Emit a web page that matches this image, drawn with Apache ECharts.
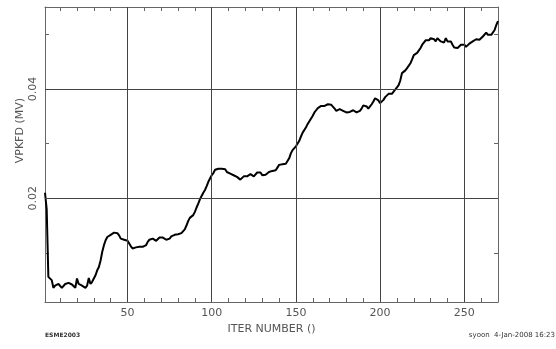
<!DOCTYPE html>
<html>
<head>
<meta charset="utf-8">
<script src="https://cdn.jsdelivr.net/npm/echarts@6/dist/echarts.min.js"></script>
<style>html,body{margin:0;padding:0;background:#fff}#c{width:556px;height:349px}</style>
</head>
<body>
<div id="c"></div>
<script>
// VPKFD (MV) per iteration, iterations 1..270
var vpkfd = [
0.0210,0.0180,0.0056,0.0059,0.0050,0.0036,0.0040,0.0037,0.0043,0.0040,
0.0036,0.0034,0.0043,0.0042,0.0045,0.0043,0.0042,0.0039,0.0036,0.0053,
0.0043,0.0042,0.0040,0.0039,0.0036,0.0040,0.0054,0.0043,0.0047,0.0050,
0.0059,0.0068,0.0074,0.0086,0.0102,0.0114,0.0123,0.0129,0.0132,0.0133,
0.0135,0.0137,0.0139,0.0136,0.0132,0.0126,0.0123,0.0124,0.0123,0.0122,
0.0117,0.0112,0.0108,0.0110,0.0110,0.0111,0.0111,0.0111,0.0111,0.0111,
0.0114,0.0120,0.0124,0.0126,0.0126,0.0124,0.0122,0.0124,0.0128,0.0128,
0.0128,0.0126,0.0124,0.0122,0.0126,0.0130,0.0132,0.0133,0.0134,0.0134,
0.0135,0.0136,0.0138,0.0143,0.0150,0.0158,0.0164,0.0166,0.0169,0.0175,
0.0183,0.0190,0.0198,0.0204,0.0210,0.0215,0.0222,0.0230,0.0236,0.0242,
0.0246,0.0252,0.0253,0.0254,0.0256,0.0254,0.0256,0.0253,0.0248,0.0250,
0.0245,0.0247,0.0242,0.0243,0.0239,0.0236,0.0234,0.0236,0.0240,0.0242,
0.0240,0.0242,0.0244,0.0242,0.0240,0.0242,0.0247,0.0250,0.0247,0.0242,
0.0239,0.0243,0.0245,0.0248,0.0251,0.0250,0.0253,0.0251,0.0256,0.0261,
0.0261,0.0262,0.0262,0.0263,0.0263,0.0273,0.0282,0.0288,0.0291,0.0295,
0.0300,0.0305,0.0313,0.0320,0.0325,0.0330,0.0336,0.0341,0.0346,0.0351,
0.0357,0.0361,0.0365,0.0367,0.0369,0.0368,0.0369,0.0369,0.0372,0.0372,
0.0371,0.0368,0.0364,0.0360,0.0361,0.0363,0.0363,0.0360,0.0358,0.0357,
0.0355,0.0358,0.0361,0.0361,0.0358,0.0357,0.0358,0.0360,0.0364,0.0370,
0.0371,0.0368,0.0364,0.0368,0.0372,0.0377,0.0383,0.0381,0.0379,0.0374,
0.0376,0.0380,0.0385,0.0387,0.0391,0.0392,0.0391,0.0395,0.0398,0.0403,
0.0407,0.0416,0.0429,0.0432,0.0434,0.0438,0.0441,0.0447,0.0454,0.0462,
0.0464,0.0466,0.0468,0.0475,0.0481,0.0484,0.0489,0.0491,0.0489,0.0493,
0.0496,0.0491,0.0487,0.0493,0.0490,0.0487,0.0484,0.0485,0.0493,0.0487,
0.0485,0.0487,0.0481,0.0476,0.0473,0.0475,0.0478,0.0481,0.0484,0.0481,
0.0477,0.0479,0.0483,0.0485,0.0487,0.0490,0.0491,0.0490,0.0490,0.0493,
0.0496,0.0499,0.0503,0.0499,0.0497,0.0499,0.0502,0.0508,0.0517,0.0524
];
var xLabelTicks = [50, 100, 150, 200, 250];
var xMinorTicks = [10,20,30,40,50,60,70,80,90,100,110,120,130,140,150,160,170,180,190,200,210,220,230,240,250,260];
var yLabelTicks = [0.02, 0.04];
var yMinorTicks = [0.01, 0.02, 0.03, 0.04, 0.05];
var xName = 'ITER NUMBER ()';
var yName = 'VPKFD (MV)';
var footLeft = 'ESME2003';
var footRight = 'syoon  4-Jan-2008 16:23';

var points = vpkfd.map(function (v, i) { return [i + 1, v]; });

var FONT = 'DejaVu Sans';
var AX = '#666';
var GRID = '#444';

var chart = echarts.init(document.getElementById('c'), null, {renderer: 'canvas'});
var gridLines = [];
xLabelTicks.forEach(function (x) { gridLines.push({xAxis: x}); });
yLabelTicks.forEach(function (y) { gridLines.push({yAxis: y}); });

chart.setOption({
  animation: false,
  backgroundColor: '#fff',
  grid: {left: 45, right: 58, top: 7, bottom: 47, containLabel: false},
  xAxis: [{
    type: 'value', min: 1, max: 270, position: 'bottom',
    name: xName, nameLocation: 'middle', nameGap: 20,
    nameTextStyle: {fontFamily: FONT, fontSize: 11, color: '#555'},
    axisLine: {show: true, lineStyle: {color: AX, width: 1}},
    axisTick: {show: true, inside: true, length: 4, customValues: xMinorTicks, lineStyle: {color: AX}},
    axisLabel: {show: true, customValues: xLabelTicks, margin: 6, fontFamily: FONT, fontSize: 11, color: '#555'},
    splitLine: {show: false}
  }, {
    type: 'value', min: 1, max: 270, position: 'top',
    axisLine: {show: true, lineStyle: {color: AX, width: 1}},
    axisTick: {show: true, inside: true, length: 4, customValues: xMinorTicks, lineStyle: {color: AX}},
    axisLabel: {show: false},
    splitLine: {show: false}
  }],
  yAxis: [{
    type: 'value', min: 0.001, max: 0.055, position: 'left',
    axisLine: {show: true, lineStyle: {color: AX, width: 1}},
    axisTick: {show: true, inside: true, length: 4, customValues: yMinorTicks, lineStyle: {color: AX}},
    axisLabel: {show: true, customValues: yLabelTicks, rotate: 90, margin: 6, fontFamily: FONT, fontSize: 11, color: '#555',
      formatter: function (v) { return v.toFixed(2); }},
    splitLine: {show: false}
  }, {
    type: 'value', min: 0.001, max: 0.055, position: 'right',
    axisLine: {show: true, lineStyle: {color: AX, width: 1}},
    axisTick: {show: true, inside: true, length: 4, customValues: yMinorTicks, lineStyle: {color: AX}},
    axisLabel: {show: false},
    splitLine: {show: false}
  }],
  series: [{
    type: 'line', data: [], z: 1, silent: true,
    markLine: {
      silent: true, symbol: 'none', animation: false,
      label: {show: false},
      lineStyle: {color: GRID, width: 1, type: 'solid'},
      data: gridLines
    }
  }, {
    type: 'line', data: points, z: 3, showSymbol: false, symbol: 'none',
    lineStyle: {color: '#000', width: 2}
  }],
  graphic: [{
    type: 'text', left: 15, top: 98, rotation: Math.PI / 2,
    style: {text: yName, fontFamily: FONT, fontSize: 11, fill: '#555'}
  }, {
    type: 'text', left: 45, top: 332,
    style: {text: footLeft, fontFamily: FONT, fontSize: 6, fontWeight: 'bold', fill: '#333'}
  }, {
    type: 'text', right: 1, top: 332,
    style: {text: footRight, fontFamily: FONT, fontSize: 7, fill: '#333'}
  }]
});
</script>
</body>
</html>
